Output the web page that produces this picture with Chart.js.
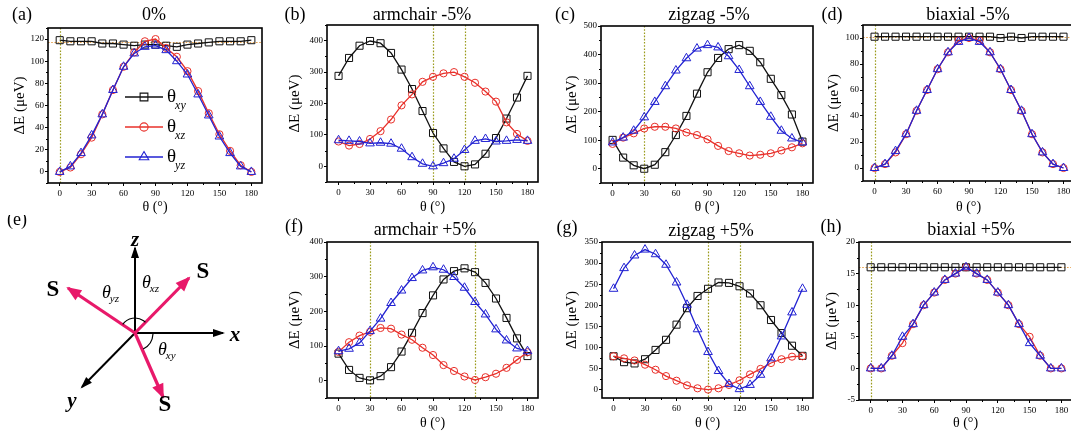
<!DOCTYPE html>
<html>
<head>
<meta charset="utf-8">
<script src="https://cdn.jsdelivr.net/npm/chart.js@4.4.1/dist/chart.umd.min.js"></script>
<style>
  html, body { margin: 0; padding: 0; background: #fff; width: 1071px; height: 438px; overflow: hidden; position: relative; }
  canvas { position: absolute; }
</style>
</head>
<body>
<script>
const SERIF = '"Liberation Serif","Times New Roman",serif';

// rotation angle of the spin (degrees)
const theta = [0,10,20,30,40,50,60,70,80,90,100,110,120,130,140,150,160,170,180];
const thetaTicks = [0,30,60,90,120,150,180];

// (a) 0 %
const a_xy = [119,118,118,118,116,116,115,114,115,115,114,113,115,116,117,118,118,118,119];
const a_xz = [0,4,16,31,52,74,95,108,118,120,112,104,91,73,53,34,19,6,0];
const a_yz = [0,5,17,33,52,74,95,107,113,114,110,100,88,70,51,32,17,5,0];
const a_yTicks = [0,20,40,60,80,100,120];

// (b) armchair -5 %
const b_xy = [288,345,384,399,392,361,308,246,176,106,57,14,0,6,40,90,152,219,288];
const b_xz = [79,66,71,87,112,149,194,229,269,285,296,300,285,266,238,206,140,103,81];
const b_yz = [83,81,79,73,75,72,56,29,8,0,10,24,52,81,87,79,81,84,81];
const b_yTicks = [0,100,200,300,400];

// (c) zigzag -5 %
const c_xy = [101,39,12,0,14,58,118,185,263,338,388,419,433,413,373,315,258,190,95];
const c_xz = [87,109,124,141,147,147,141,127,118,103,80,62,54,46,49,54,64,75,89];
const c_yz = [92,109,133,180,234,289,344,387,421,433,425,394,346,289,234,182,133,106,92];
const c_yTicks = [0,100,200,300,400,500];

// (d) biaxial -5 %
const d_xy = [101,101,101,101,101,101,101,101,101,101,101,101,100,101,100,101,101,101,101];
const d_xz = [0,3,12,26,44,60,76,89,98,100,98,89,76,60,44,26,12,3,0];
const d_yz = [0,3,13,26,44,60,76,89,97,100,97,89,76,60,44,26,12,3,0];
const d_yTicks = [0,20,40,60,80,100];

// (f) armchair +5 %
const f_xy = [78,31,8,1,13,39,84,138,195,246,292,316,324,313,282,237,181,122,71];
const f_xz = [83,111,130,141,152,150,133,118,95,74,45,28,12,2,10,20,37,60,82];
const f_yz = [85,92,109,143,179,224,260,296,318,327,320,299,268,227,191,148,116,93,85];
const f_yTicks = [0,100,200,300,400];

// (g) zigzag +5 %
const g_xy = [79,65,62,72,94,118,154,193,222,239,254,253,245,228,200,165,134,104,80];
const g_xz = [79,74,69,59,47,32,21,10,3,0,3,11,22,36,49,63,72,78,79];
const g_yz = [239,288,318,332,321,296,254,201,143,89,44,13,1,11,35,74,126,183,239];
const g_yTicks = [0,50,100,150,200,250,300,350];

// (h) biaxial +5 %
const h_xy = [16,16,16,16,16,16,16,16,16,16,16,16,16,16,16,16,16,16,16];
const h_xz = [0,0,2,4,7,10,12,14,15,16,15,14,12,10,7,5,2,0,0];
const h_yz = [0,0,2,5,7,10,12,14,15,16,15,14,12,10,7,4,2,0,0];
const h_yTicks = [-5,0,5,10,15,20];

// marker reference lines
const a_vLines = [0],       a_hLine = 117;
const b_vLines = [90,120];
const c_vLines = [30];
const d_vLines = [0],       d_hLine = 101;
const f_vLines = [30,130];
const g_vLines = [90,120];
const h_vLines = [0],       h_hLine = 16;

const COL = { xy: '#111111', xz: '#e8302a', yz: '#2222d2' };
const MARK = { xy: ['rect', 5], xz: ['circle', 3.6], yz: ['triangle', 5] };

// ---------- panel layout (page pixels) ----------
const panels = [
  { tag:'(a)', tagAt:[22,15], title:'0%', titleAt:[154,15], box:[0,0,272,220], area:[48,28,262,183],
    y:[-10,130], yTicks:a_yTicks, yMinor:10, series:[a_xy,a_xz,a_yz], vLines:a_vLines, hLine:a_hLine,
    yTitleX:20, xTitleY:207, legend:true },
  { tag:'(b)', tagAt:[295,15], title:'armchair -5%', titleAt:[422,15], box:[270,0,280,220], area:[327,25,538,182],
    y:[-50,450], yTicks:b_yTicks, yMinor:50, series:[b_xy,b_xz,b_yz], vLines:b_vLines,
    yTitleX:295, xTitleY:207 },
  { tag:'(c)', tagAt:[565,15], title:'zigzag -5%', titleAt:[709,15], box:[545,0,280,220], area:[601,26,813,183],
    y:[-50,500], yTicks:c_yTicks, yMinor:50, series:[c_xy,c_xz,c_yz], vLines:c_vLines,
    yTitleX:572, xTitleY:207 },
  { tag:'(d)', tagAt:[832,15], title:'biaxial -5%', titleAt:[968,15], box:[815,0,270,220], area:[863,25,1074,181],
    y:[-10,110], yTicks:d_yTicks, yMinor:10, series:[d_xy,d_xz,d_yz], vLines:d_vLines, hLine:d_hLine,
    yTitleX:834, xTitleY:207 },
  { tag:'(f)', tagAt:[294,227], title:'armchair +5%', titleAt:[425,230], box:[270,215,280,223], area:[327,242,538,398],
    y:[-50,400], yTicks:f_yTicks, yMinor:50, series:[f_xy,f_xz,f_yz], vLines:f_vLines,
    yTitleX:295, xTitleY:423 },
  { tag:'(g)', tagAt:[567,228], title:'zigzag +5%', titleAt:[711,231], box:[545,215,280,223], area:[602,242,813,398],
    y:[-20,350], yTicks:g_yTicks, yMinor:25, series:[g_xy,g_xz,g_yz], vLines:g_vLines,
    yTitleX:572, xTitleY:423 },
  { tag:'(h)', tagAt:[831,227], title:'biaxial +5%', titleAt:[971,230], box:[815,215,270,223], area:[859,242,1072,400],
    y:[-5,20], yTicks:h_yTicks, yMinor:2.5, series:[h_xy,h_xz,h_yz], vLines:h_vLines, hLine:h_hLine,
    yTitleX:832, xTitleY:423 }
];

function makeCanvas(box) {
  const cv = document.createElement('canvas');
  cv.width = box[2]; cv.height = box[3];
  cv.style.left = box[0] + 'px'; cv.style.top = box[1] + 'px';
  cv.style.width = box[2] + 'px'; cv.style.height = box[3] + 'px';
  document.body.appendChild(cv);
  return cv;
}

// marker outline with the same geometry as Chart.js point styles
function drawMarker(ctx, style, r, x, y) {
  ctx.beginPath();
  if (style === 'rect') {
    const s = Math.SQRT1_2 * r;
    ctx.rect(x - s, y - s, 2 * s, 2 * s);
  } else if (style === 'circle') {
    ctx.arc(x, y, r, 0, Math.PI * 2);
  } else {
    let a = 0;
    ctx.moveTo(x + Math.sin(a) * r, y - Math.cos(a) * r);
    a += 2 * Math.PI / 3; ctx.lineTo(x + Math.sin(a) * r, y - Math.cos(a) * r);
    a += 2 * Math.PI / 3; ctx.lineTo(x + Math.sin(a) * r, y - Math.cos(a) * r);
    ctx.closePath();
  }
  ctx.stroke();
}

function framePlugin(p) {
  const [L, T] = p.box;
  return {
    id: 'frame',
    beforeDatasetsDraw(chart) {
      const { ctx, chartArea: ca, scales: { x, y } } = chart;
      ctx.save();
      ctx.lineWidth = 1.2;
      ctx.setLineDash([1.6, 1.6]);
      ctx.strokeStyle = '#9b9b1c';
      (p.vLines || []).forEach(v => {
        const px = Math.round(x.getPixelForValue(v)) + 0.5;
        ctx.beginPath(); ctx.moveTo(px, ca.top); ctx.lineTo(px, ca.bottom); ctx.stroke();
      });
      if (p.hLine !== undefined) {
        ctx.strokeStyle = '#e6a24e';
        const py = Math.round(y.getPixelForValue(p.hLine)) + 0.5;
        ctx.beginPath(); ctx.moveTo(ca.left, py); ctx.lineTo(ca.right, py); ctx.stroke();
      }
      ctx.restore();
    },
    afterDatasetsDraw(chart) {
      if (!p.legend) return;
      const { ctx } = chart;
      const rows = [['xy', 97], ['xz', 127], ['yz', 157]];
      ctx.save();
      rows.forEach(([k, ry]) => {
        const yy = ry - T;
        ctx.strokeStyle = COL[k];
        ctx.lineWidth = 1.5;
        ctx.beginPath(); ctx.moveTo(125 - L, yy); ctx.lineTo(163 - L, yy); ctx.stroke();
        ctx.lineWidth = 1.1;
        drawMarker(ctx, MARK[k][0], MARK[k][1] + 0.5, 144 - L, yy);
        ctx.fillStyle = '#000';
        ctx.font = `19px ${SERIF}`;
        ctx.textAlign = 'left'; ctx.textBaseline = 'middle';
        ctx.fillText('θ', 167 - L, yy);
        const w = ctx.measureText('θ').width;
        ctx.font = `italic 12px ${SERIF}`;
        ctx.textBaseline = 'alphabetic';
        ctx.fillText(k, 167 - L + w - 1, yy + 12);
      });
      ctx.restore();
    },
    afterDraw(chart) {
      const { ctx, chartArea: ca, scales: { x, y } } = chart;
      ctx.save();
      ctx.strokeStyle = '#000';
      ctx.lineWidth = 1;
      // minor ticks on the left and bottom axes
      const yMinStart = Math.ceil(y.min / p.yMinor) * p.yMinor;
      for (let v = yMinStart; v <= y.max + 1e-9; v += p.yMinor) {
        if (p.yTicks.some(t => Math.abs(t - v) < 1e-9)) continue;
        const py = Math.round(y.getPixelForValue(v)) + 0.5;
        ctx.beginPath(); ctx.moveTo(ca.left, py); ctx.lineTo(ca.left - 2, py); ctx.stroke();
      }
      for (let v = Math.ceil(x.min / 15) * 15; v <= x.max; v += 15) {
        if (thetaTicks.includes(v)) continue;
        const px = Math.round(x.getPixelForValue(v)) + 0.5;
        ctx.beginPath(); ctx.moveTo(px, ca.bottom); ctx.lineTo(px, ca.bottom + 2); ctx.stroke();
      }
      // plot frame
      ctx.lineWidth = 1.6;
      ctx.strokeRect(ca.left, ca.top, ca.right - ca.left, ca.bottom - ca.top);
      // panel title and tag
      ctx.fillStyle = '#000';
      ctx.textAlign = 'center'; ctx.textBaseline = 'middle';
      ctx.font = `18px ${SERIF}`;
      ctx.fillText(p.title, p.titleAt[0] - L, p.titleAt[1] - T);
      ctx.fillText(p.tag, p.tagAt[0] - L, p.tagAt[1] - T);
      ctx.restore();
    }
  };
}

function series(values, key, order) {
  return {
    data: values.map((v, i) => ({ x: theta[i], y: v })),
    borderColor: COL[key], borderWidth: 1.3,
    pointStyle: MARK[key][0], pointRadius: MARK[key][1],
    pointBorderColor: COL[key], pointBackgroundColor: 'rgba(255,255,255,0)',
    pointBorderWidth: 1, tension: 0, order
  };
}

panels.forEach(p => {
  const [L, T, W, H] = p.box;
  const [al, at, ar, ab] = p.area;
  const yLH = 15 * 1.2, xLH = 14 * 1.2;
  new Chart(makeCanvas(p.box), {
    type: 'line',
    data: { datasets: [ series(p.series[0], 'xy', 3), series(p.series[1], 'xz', 2), series(p.series[2], 'yz', 1) ] },
    options: {
      responsive: false, animation: false, devicePixelRatio: 1, events: [],
      layout: { padding: { left: 0, top: at - T, right: L + W - ar, bottom: 0 } },
      plugins: { legend: { display: false }, tooltip: { enabled: false }, title: { display: false } },
      scales: {
        x: {
          type: 'linear', min: -11, max: 190,
          afterBuildTicks: s => { s.ticks = thetaTicks.map(v => ({ value: v })); },
          afterFit: s => { s.height = T + H - ab; },
          grid: { drawOnChartArea: false, drawTicks: true, tickLength: 3, tickWidth: 1, tickColor: '#000' },
          border: { display: false },
          ticks: { font: { family: SERIF, size: 9 }, color: '#000', padding: 2, maxRotation: 0, autoSkip: false },
          title: { display: true, text: 'θ (°)', color: '#000', font: { family: SERIF, size: 14 },
                   padding: { top: 0, bottom: T + H - p.xTitleY - xLH / 2 } }
        },
        y: {
          type: 'linear', min: p.y[0], max: p.y[1],
          afterBuildTicks: s => { s.ticks = p.yTicks.map(v => ({ value: v })); },
          afterFit: s => { s.width = al - L; },
          grid: { drawOnChartArea: false, drawTicks: true, tickLength: 3, tickWidth: 1, tickColor: '#000' },
          border: { display: false },
          ticks: { font: { family: SERIF, size: 9 }, color: '#000', padding: 1, autoSkip: false },
          title: { display: true, text: 'ΔE (μeV)', color: '#000', font: { family: SERIF, size: 15 },
                   padding: { top: p.yTitleX - L - yLH / 2, bottom: 0 } }
        }
      }
    },
    plugins: [framePlugin(p)]
  });
});

// ---------- (e) spin orientation sketch ----------
// vectors from the origin, in sketch units (x right, y up)
const axisVectors = [[0, 85], [88, 0], [-53, -54]];          // z, x, y
const spinVectors = [[54, 55], [-67, 45], [28, -64]];        // three S directions
const axisLabels = [['z', 0, 92], ['x', 100, -3], ['y', -63, -69]];
const spinLabels = [['S', 68, 61], ['S', -82, 43], ['S', 30, -72]];
const angleLabels = [['yz', -33, 40], ['xz', 7, 50], ['xy', 23, -17]];

const PINK = '#e8196a';
const eBox = [0, 215, 270, 223];

function headPlugin() {
  return {
    id: 'sketch',
    afterDatasetsDraw(chart) {
      const { ctx, scales: { x, y } } = chart;
      const P = (a, b) => [x.getPixelForValue(a), y.getPixelForValue(b)];
      const head = (v, color, len, half) => {
        const [ox, oy] = P(0, 0), [tx, ty] = P(v[0], v[1]);
        const ang = Math.atan2(ty - oy, tx - ox);
        ctx.fillStyle = color;
        ctx.beginPath();
        ctx.moveTo(tx + Math.cos(ang) * 2, ty + Math.sin(ang) * 2);
        ctx.lineTo(tx - Math.cos(ang) * len - Math.sin(ang) * half, ty - Math.sin(ang) * len + Math.cos(ang) * half);
        ctx.lineTo(tx - Math.cos(ang) * len + Math.sin(ang) * half, ty - Math.sin(ang) * len - Math.cos(ang) * half);
        ctx.closePath(); ctx.fill();
      };
      ctx.save();
      axisVectors.forEach(v => head(v, '#000', 10, 4));
      spinVectors.forEach(v => head(v, PINK, 13, 6));
      // angle arcs
      const [ox, oy] = P(0, 0);
      ctx.strokeStyle = '#000'; ctx.lineWidth = 1.2;
      ctx.beginPath(); ctx.arc(ox, oy, 15, -Math.PI * 145 / 180, -Math.PI * 46 / 180); ctx.stroke();
      ctx.beginPath(); ctx.arc(ox, oy, 18, Math.PI * 3 / 180, Math.PI * 63 / 180); ctx.stroke();
      // labels
      ctx.fillStyle = '#000';
      ctx.textAlign = 'center'; ctx.textBaseline = 'middle';
      ctx.font = `italic bold 21px ${SERIF}`;
      axisLabels.forEach(([t, a, b]) => { const [px, py] = P(a, b); ctx.fillText(t, px, py); });
      ctx.font = `bold 23px ${SERIF}`;
      spinLabels.forEach(([t, a, b]) => { const [px, py] = P(a, b); ctx.fillText(t, px, py); });
      angleLabels.forEach(([sub, a, b]) => {
        const [px, py] = P(a, b);
        ctx.textAlign = 'left'; ctx.textBaseline = 'middle';
        ctx.font = `italic 18px ${SERIF}`;
        ctx.fillText('θ', px, py);
        const w = ctx.measureText('θ').width;
        ctx.font = `italic 11px ${SERIF}`;
        ctx.textBaseline = 'alphabetic';
        ctx.fillText(sub, px + w - 1, py + 9);
      });
      ctx.textAlign = 'center'; ctx.textBaseline = 'middle';
      ctx.font = `18px ${SERIF}`;
      const [ex, ey] = P(-118, 113);
      ctx.fillText('(e)', ex, ey);
      ctx.restore();
    }
  };
}

const vecSet = (v, color, width, order) => ({
  data: [{ x: 0, y: 0 }, { x: v[0], y: v[1] }],
  showLine: true, borderColor: color, borderWidth: width, pointRadius: 0, order
});

new Chart(makeCanvas(eBox), {
  type: 'scatter',
  data: { datasets: [
    ...spinVectors.map(v => vecSet(v, PINK, 3.2, 1)),
    ...axisVectors.map(v => vecSet(v, '#000', 2, 2))
  ] },
  options: {
    responsive: false, animation: false, devicePixelRatio: 1, events: [],
    layout: { padding: 0 },
    plugins: { legend: { display: false }, tooltip: { enabled: false } },
    scales: {
      x: { display: false, min: -135, max: 135 },
      y: { display: false, min: -105, max: 118 }
    }
  },
  plugins: [headPlugin()]
});
</script>
</body>
</html>
